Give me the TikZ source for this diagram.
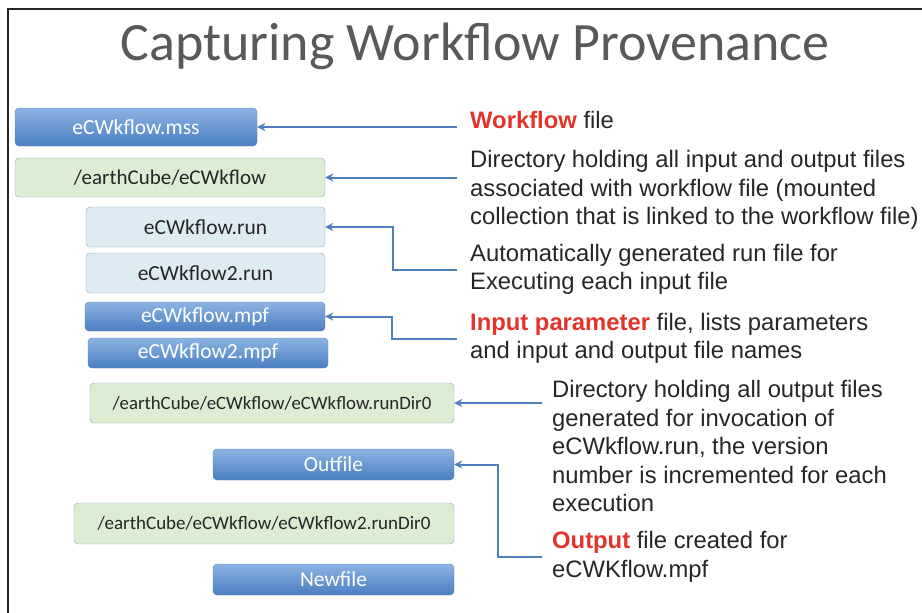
\documentclass[tikz,border=0pt]{standalone}
\usepackage{fontspec}
\setmainfont{Liberation Sans}
\newfontfamily\boxfont{Carlito}
\usetikzlibrary{arrows.meta, calc, positioning}

\definecolor{fileBlueTop}{HTML}{8DB3E2}
\definecolor{fileBlueBot}{HTML}{4A7EC2}
\definecolor{fileBlueLine}{HTML}{5A86C0}
\definecolor{dirGreen}{HTML}{DCEDD3}
\definecolor{dirLine}{HTML}{8EA6B0}
\definecolor{runBlue}{HTML}{DDEBF3}
\definecolor{arrowBlue}{HTML}{4F7FBD}
\definecolor{keyRed}{HTML}{E2342A}
\definecolor{titleGray}{HTML}{595959}

\begin{document}
\begin{tikzpicture}[
    x=1pt, y=-1pt,
    >={Stealth[length=8pt, width=8pt]},
    filebox/.style={draw=fileBlueLine, rounded corners=4pt, top color=fileBlueTop, bottom color=fileBlueBot, text=white, font=\boxfont\fontsize{21.5}{24}\selectfont, inner sep=0pt},
    dirbox/.style={draw=dirLine, rounded corners=4pt, fill=dirGreen, text=black!85, font=\boxfont\fontsize{21}{24}\selectfont, inner sep=0pt},
    runbox/.style={draw=dirLine, rounded corners=4pt, fill=runBlue, text=black!85, font=\boxfont\fontsize{21.5}{24}\selectfont, inner sep=0pt},
    noteStyle/.style={font=\fontsize{23.8}{28.5}\selectfont, align=left, text=black!85, anchor=west, inner sep=2pt},
    arrowline/.style={->, arrowBlue, line width=2pt}
]
\useasboundingbox (0,0) rectangle (922,613);

% frame
\draw[line width=2pt, black!85] (922,9) -- (8,9) -- (8,613);

% title
\node[font=\boxfont\fontsize{54}{64}\selectfont, text=titleGray] (title) at (475,46) {Capturing Workflow Provenance};

% ----------------------------------------------------
% Left column (files and directories)
% ----------------------------------------------------
\node[filebox, minimum width=242, minimum height=38] (mss) at (136,127) {eCWkflow.mss};
\node[dirbox, minimum width=310, minimum height=39] (dir) at (170,177.5) {/earthCube/eCWkflow};
\node[runbox, minimum width=239, minimum height=40] (run) at (205.5,227) {eCWkflow.run};
\node[runbox, minimum width=239, minimum height=40] (run2) at (205.5,273) {eCWkflow2.run};
\node[filebox, minimum width=240, minimum height=29] (mpf) at (205,316.5) {eCWkflow.mpf};
\node[filebox, minimum width=240, minimum height=30] (mpf2) at (208,353) {eCWkflow2.mpf};
\node[dirbox, font=\boxfont\fontsize{18.8}{21}\selectfont, minimum width=364, minimum height=40] (runDir0) at (272,403) {/earthCube/eCWkflow/eCWkflow.runDir0};
\node[filebox, minimum width=241, minimum height=31] (outfile) at (333.5,464.5) {Outfile};
\node[dirbox, font=\boxfont\fontsize{19}{21}\selectfont, minimum width=380, minimum height=41] (runDir2) at (264,523.5) {/earthCube/eCWkflow/eCWkflow2.runDir0};
\node[filebox, minimum width=241, minimum height=31] (newfile) at (333.5,579.5) {Newfile};

% ----------------------------------------------------
% Right column (descriptions)
% ----------------------------------------------------
\node[noteStyle] (wfNote) at (468,120) {\textcolor{keyRed}{\textbf{Workflow}} file};
\node[noteStyle] (dirNote) at (468,190) {Directory holding all input and output files\\associated with workflow file (mounted\\collection that is linked to the workflow file)};
\node[noteStyle] (runNote) at (468,269.5) {Automatically generated run file for\\Executing each input file};
\node[noteStyle] (mpfNote) at (468,338.5) {\textcolor{keyRed}{\textbf{Input parameter}} file, lists parameters\\and input and output file names};
\node[noteStyle] (runDirNote) at (550,446) {Directory holding all output files\\generated for invocation of\\eCWkflow.run, the version\\number is incremented for each\\execution};
\node[noteStyle] (outNote) at (550,557) {\textcolor{keyRed}{\textbf{Output}} file created for\\eCWKflow.mpf};

% ----------------------------------------------------
% Pointers
% ----------------------------------------------------
\draw[arrowline, shorten <=11pt] (mss.east -| wfNote.west) -- (mss.east);
\draw[arrowline, shorten <=11pt] (dir.east -| dirNote.west) -- (dir.east);
\draw[arrowline, shorten <=11pt] (runNote.west) -- ++(-75,0) |- (run.east);
\draw[arrowline, shorten <=11pt] (mpfNote.west) -- ++(-76,0) |- (mpf.east);
\draw[arrowline, shorten <=8pt] (runDir0.east -| runDirNote.west) -- (runDir0.east);
\draw[arrowline, shorten <=8pt] (outNote.west) -- ++(-52,0) |- (outfile.east);

\end{tikzpicture}
\end{document}
